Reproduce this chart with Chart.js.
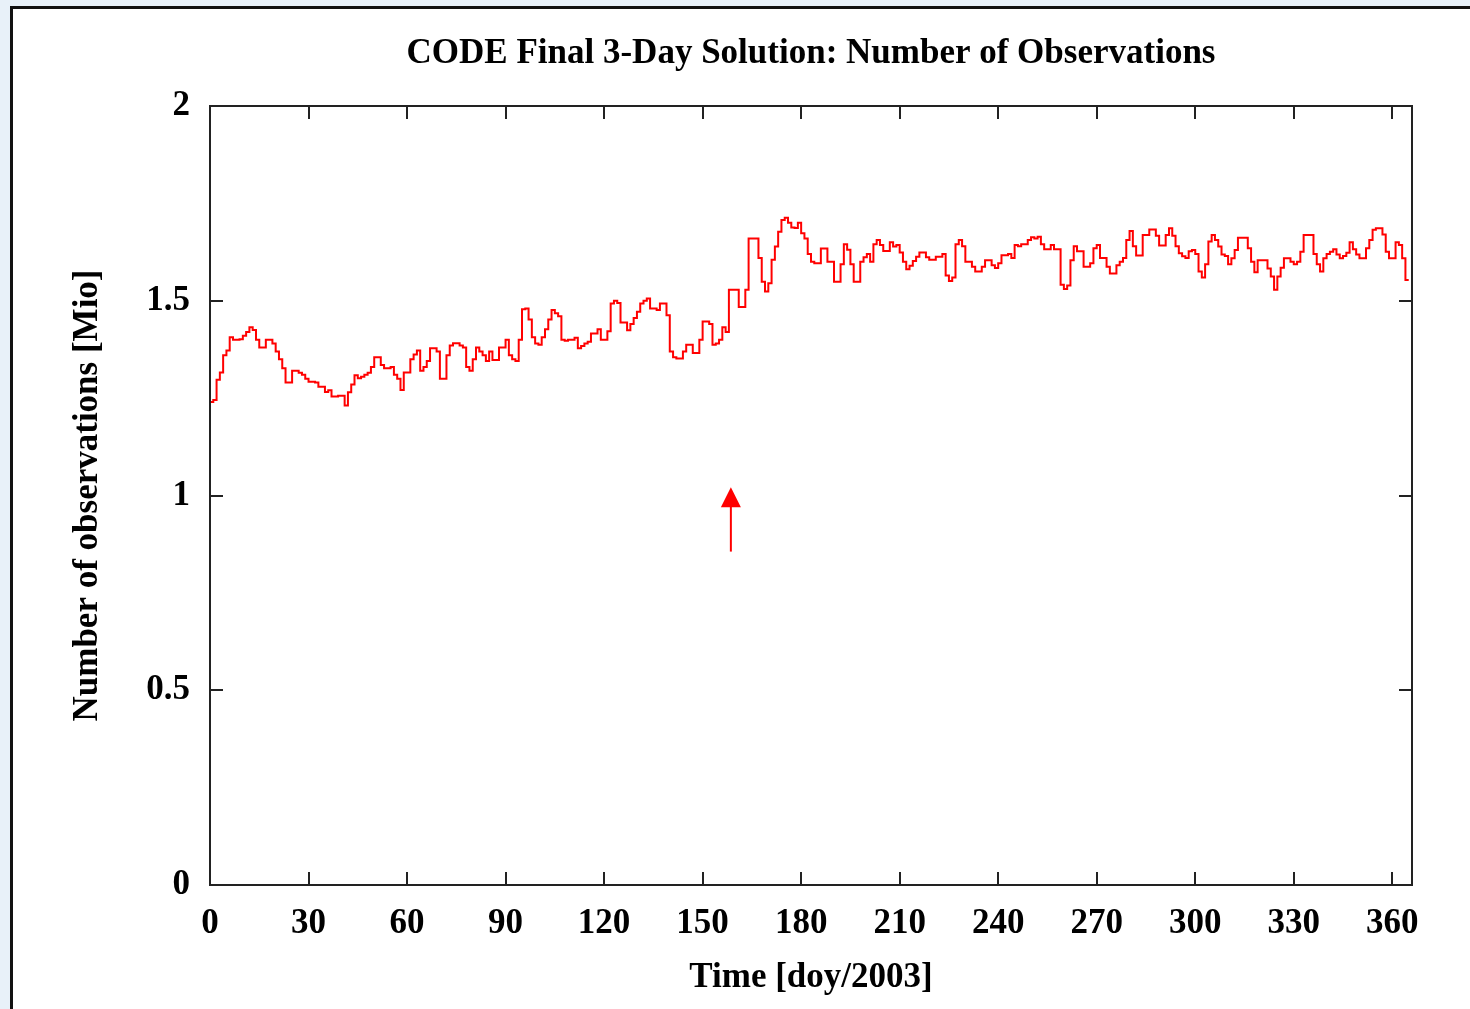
<!DOCTYPE html>
<html>
<head>
    <meta charset="UTF-8">
    <title>CODE Final 3-Day Solution: Number of Observations</title>
    <style>
        html, body {
            margin: 0;
            padding: 0;
            width: 1470px;
            height: 1009px;
            overflow: hidden;
            background-color: #e8f1f9;
        }

        .frame {
            position: absolute;
            left: 10px;
            top: 6px;
            width: 1470px;
            height: 1020px;
            background-color: #fff;
            border-left: 3px solid #111;
            border-top: 3px solid #111;
        }

        #obsChart {
            position: absolute;
            left: 0;
            top: 0;
        }
    </style>
</head>
<body>
    <div class="frame"></div>
    <canvas id="obsChart" width="1470" height="1009"></canvas>
    <script src="https://cdn.jsdelivr.net/npm/chart.js"></script>
    <script>
        // Daily number of observations [Mio], doy 0..365 of 2003
        const obs = [
            1.240, 1.240, 1.245, 1.297, 1.316, 1.360, 1.372, 1.406, 1.400, 1.400,
            1.401, 1.410, 1.420, 1.432, 1.425, 1.400, 1.380, 1.380, 1.400, 1.400,
            1.390, 1.370, 1.350, 1.327, 1.290, 1.290, 1.320, 1.320, 1.315, 1.310,
            1.300, 1.292, 1.292, 1.290, 1.279, 1.279, 1.266, 1.270, 1.254, 1.254,
            1.256, 1.256, 1.231, 1.265, 1.285, 1.309, 1.301, 1.305, 1.310, 1.315,
            1.330, 1.355, 1.355, 1.335, 1.327, 1.327, 1.330, 1.310, 1.300, 1.271,
            1.316, 1.316, 1.350, 1.362, 1.372, 1.320, 1.330, 1.345, 1.378, 1.378,
            1.370, 1.300, 1.300, 1.360, 1.385, 1.391, 1.391, 1.385, 1.380, 1.330,
            1.320, 1.350, 1.380, 1.370, 1.360, 1.345, 1.370, 1.348, 1.348, 1.380,
            1.380, 1.400, 1.360, 1.350, 1.345, 1.400, 1.478, 1.480, 1.452, 1.406,
            1.390, 1.387, 1.406, 1.427, 1.452, 1.476, 1.468, 1.460, 1.400, 1.397,
            1.400, 1.400, 1.405, 1.378, 1.384, 1.390, 1.395, 1.416, 1.416, 1.427,
            1.400, 1.400, 1.422, 1.493, 1.500, 1.494, 1.444, 1.444, 1.424, 1.440,
            1.456, 1.472, 1.493, 1.500, 1.506, 1.480, 1.480, 1.476, 1.493, 1.493,
            1.463, 1.370, 1.355, 1.352, 1.352, 1.370, 1.387, 1.387, 1.366, 1.366,
            1.400, 1.447, 1.447, 1.440, 1.387, 1.390, 1.400, 1.432, 1.420, 1.528,
            1.528, 1.528, 1.484, 1.484, 1.528, 1.660, 1.660, 1.660, 1.610, 1.549,
            1.524, 1.545, 1.605, 1.639, 1.677, 1.707, 1.713, 1.700, 1.688, 1.687,
            1.700, 1.673, 1.660, 1.620, 1.600, 1.596, 1.596, 1.634, 1.634, 1.600,
            1.600, 1.549, 1.549, 1.594, 1.645, 1.631, 1.594, 1.549, 1.549, 1.600,
            1.612, 1.620, 1.600, 1.645, 1.656, 1.643, 1.628, 1.628, 1.650, 1.639,
            1.643, 1.624, 1.600, 1.581, 1.590, 1.602, 1.613, 1.624, 1.624, 1.612,
            1.605, 1.605, 1.613, 1.613, 1.620, 1.565, 1.551, 1.560, 1.645, 1.656,
            1.640, 1.600, 1.600, 1.587, 1.575, 1.575, 1.587, 1.604, 1.604, 1.591,
            1.584, 1.596, 1.617, 1.617, 1.620, 1.610, 1.643, 1.640, 1.645, 1.645,
            1.656, 1.663, 1.660, 1.664, 1.645, 1.632, 1.632, 1.643, 1.632, 1.632,
            1.541, 1.530, 1.539, 1.604, 1.640, 1.627, 1.627, 1.587, 1.587, 1.596,
            1.635, 1.643, 1.610, 1.610, 1.587, 1.570, 1.570, 1.591, 1.600, 1.610,
            1.656, 1.679, 1.640, 1.616, 1.616, 1.669, 1.669, 1.683, 1.683, 1.667,
            1.642, 1.642, 1.669, 1.686, 1.667, 1.640, 1.622, 1.614, 1.610, 1.627,
            1.630, 1.620, 1.575, 1.560, 1.594, 1.652, 1.669, 1.656, 1.639, 1.619,
            1.615, 1.594, 1.609, 1.630, 1.662, 1.662, 1.662, 1.635, 1.600, 1.573,
            1.604, 1.604, 1.604, 1.583, 1.562, 1.528, 1.562, 1.585, 1.609, 1.609,
            1.600, 1.594, 1.600, 1.626, 1.669, 1.669, 1.669, 1.620, 1.594, 1.575,
            1.609, 1.620, 1.626, 1.632, 1.619, 1.609, 1.615, 1.623, 1.650, 1.632,
            1.619, 1.609, 1.609, 1.635, 1.656, 1.682, 1.686, 1.686, 1.670, 1.626,
            1.609, 1.609, 1.650, 1.643, 1.609, 1.553
        ];

        const xTicks = [0, 30, 60, 90, 120, 150, 180, 210, 240, 270, 300, 330, 360];
        const yTicks = [0, 0.5, 1, 1.5, 2];

        const titleText = 'CODE Final 3-Day Solution: Number of Observations';

        // red arrow marking the change near doy 158
        const arrowDay = 158.6;
        const arrowFrom = 0.856;
        const arrowTo = 1.021;

        const font = { family: "'Liberation Serif', 'Times New Roman', serif", size: 35, weight: 'bold' };

        // title centred over the plot box (gnuplot does it this way, Chart.js centres on the canvas)
        const titlePlugin = {
            id: 'plotTitle',
            afterDraw(chart) {
                const ctx = chart.ctx;
                const a = chart.chartArea;
                ctx.save();
                ctx.font = 'bold 35px ' + font.family;
                ctx.fillStyle = '#000';
                ctx.textAlign = 'center';
                ctx.textBaseline = 'middle';
                ctx.fillText(titleText, (a.left + a.right) / 2, a.top - 52);
                ctx.restore();
            }
        };

        // gnuplot style frame with inward ticks on all four sides, plus the arrow
        const framePlugin = {
            id: 'frame',
            afterDatasetsDraw(chart) {
                const ctx = chart.ctx;
                const a = chart.chartArea;
                const xs = chart.scales.x;
                const ys = chart.scales.y;
                const len = 13;
                ctx.save();
                ctx.strokeStyle = '#222';
                ctx.lineWidth = 2;
                ctx.strokeRect(a.left, a.top, a.right - a.left, a.bottom - a.top);
                ctx.beginPath();
                xTicks.forEach(v => {
                    const px = Math.round(xs.getPixelForValue(v));
                    ctx.moveTo(px, a.bottom); ctx.lineTo(px, a.bottom - len);
                    ctx.moveTo(px, a.top); ctx.lineTo(px, a.top + len);
                });
                yTicks.forEach(v => {
                    const py = Math.round(ys.getPixelForValue(v));
                    ctx.moveTo(a.left, py); ctx.lineTo(a.left + len, py);
                    ctx.moveTo(a.right, py); ctx.lineTo(a.right - len, py);
                });
                ctx.stroke();

                const ax = xs.getPixelForValue(arrowDay);
                const y0 = ys.getPixelForValue(arrowFrom);
                const y1 = ys.getPixelForValue(arrowTo);
                ctx.strokeStyle = '#ff0000';
                ctx.fillStyle = '#ff0000';
                ctx.lineWidth = 2;
                ctx.beginPath();
                ctx.moveTo(ax, y0);
                ctx.lineTo(ax, y1 + 18);
                ctx.stroke();
                ctx.beginPath();
                ctx.moveTo(ax, y1);
                ctx.lineTo(ax - 10, y1 + 20);
                ctx.lineTo(ax + 10, y1 + 20);
                ctx.closePath();
                ctx.fill();
                ctx.restore();
            }
        };

        const ctx = document.getElementById('obsChart').getContext('2d');
        const obsChart = new Chart(ctx, {
            type: 'line',
            data: {
                datasets: [{
                    label: 'Number of observations',
                    data: obs.map((v, i) => ({ x: i, y: v })),
                    borderColor: '#ff0000',
                    borderWidth: 2,
                    stepped: 'after',
                    pointRadius: 0,
                    fill: false
                }]
            },
            options: {
                responsive: false,
                animation: false,
                devicePixelRatio: 1,
                layout: { padding: { left: 0, right: 58, top: 106, bottom: 0 } },
                plugins: {
                    legend: { display: false },
                    tooltip: { enabled: false },
                    title: { display: false }
                },
                scales: {
                    x: {
                        type: 'linear',
                        min: 0,
                        max: 366,
                        grid: { display: false, drawTicks: false },
                        border: { display: false },
                        ticks: {
                            stepSize: 30,
                            includeBounds: false,
                            maxRotation: 0,
                            autoSkip: false,
                            color: '#000',
                            font: font,
                            padding: 18
                        },
                        title: {
                            display: true,
                            text: 'Time [doy/2003]',
                            color: '#000',
                            font: font,
                            padding: { top: 0, bottom: 10 }
                        },
                        afterFit(scale) { scale.height = 124; }
                    },
                    y: {
                        min: 0,
                        max: 2,
                        grid: { display: false, drawTicks: false },
                        border: { display: false },
                        ticks: {
                            stepSize: 0.5,
                            color: '#000',
                            font: font,
                            padding: 20,
                            callback: v => String(v)
                        },
                        title: {
                            display: true,
                            text: 'Number of observations [Mio]',
                            color: '#000',
                            font: font,
                            padding: { top: 67, bottom: 0 }
                        },
                        afterFit(scale) { scale.width = 210; }
                    }
                }
            },
            plugins: [framePlugin, titlePlugin]
        });
    </script>
</body>
</html>
